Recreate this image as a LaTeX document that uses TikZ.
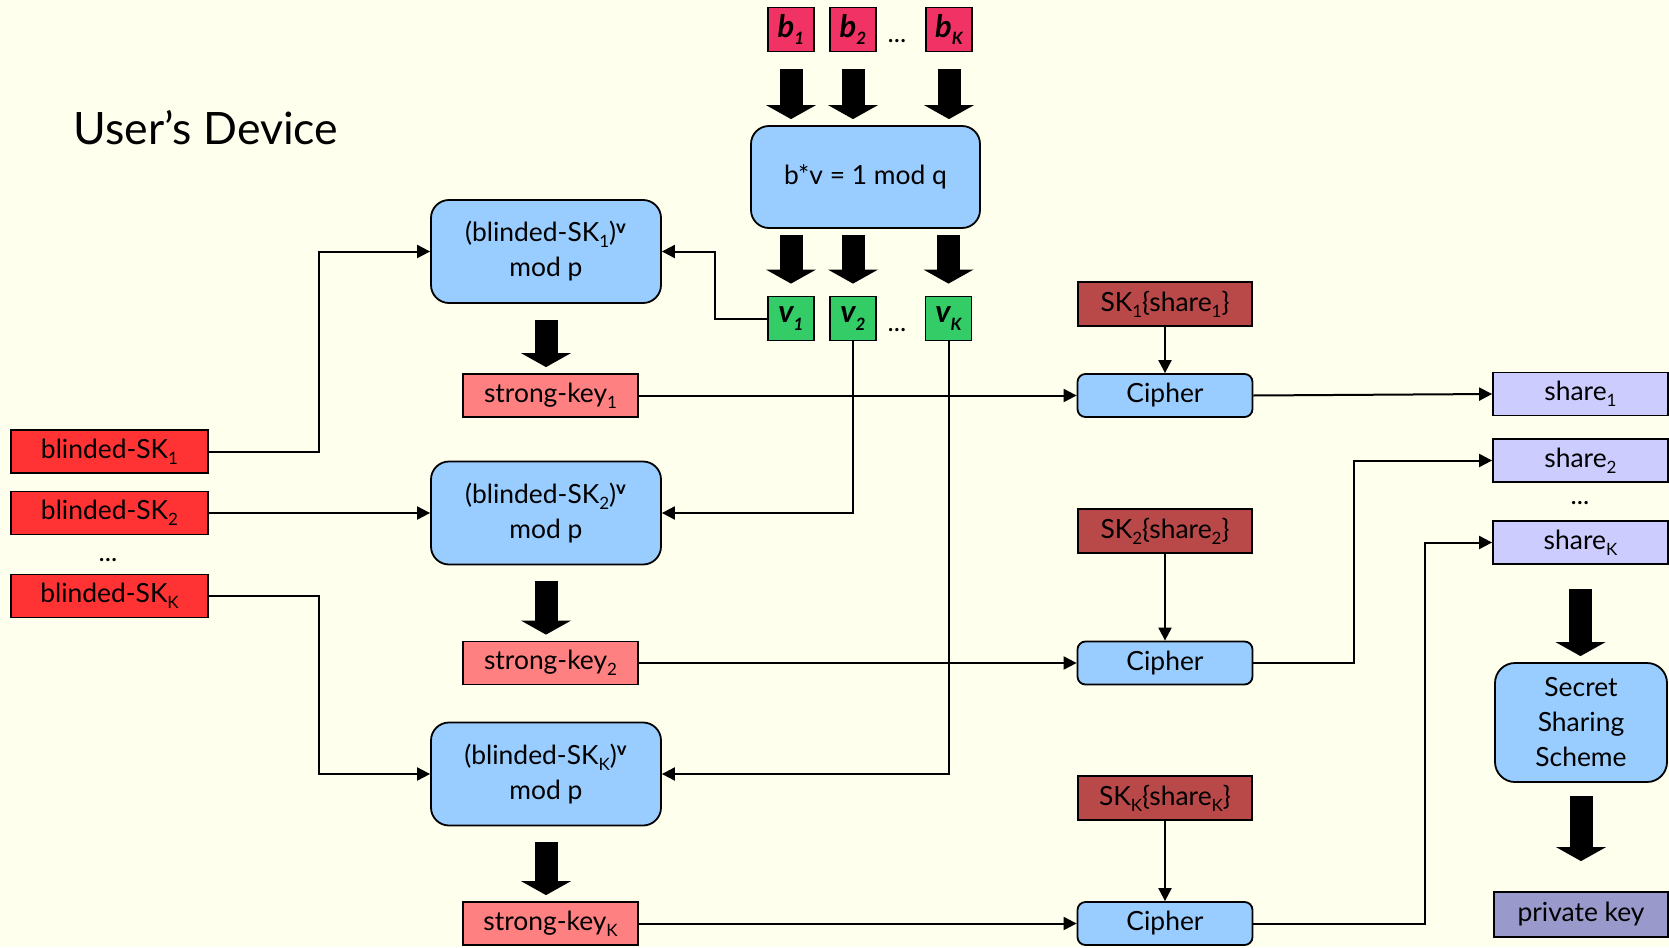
\documentclass[tikz,border=0pt]{standalone}
\usepackage{fontspec}
\setmainfont{Lato}
\usetikzlibrary{arrows.meta, positioning}
\definecolor{bgcream}{RGB}{255,255,238}
\definecolor{bpink}{RGB}{240,50,100}
\definecolor{vgreen}{RGB}{51,204,102}
\definecolor{blindred}{RGB}{255,51,51}
\definecolor{keysalmon}{RGB}{255,128,128}
\definecolor{procblue}{RGB}{153,204,255}
\definecolor{encred}{RGB}{185,72,72}
\definecolor{sharelav}{RGB}{204,204,255}
\definecolor{privpurple}{RGB}{153,153,204}
\newcommand\mainsize{\fontsize{13.2}{17.5}\selectfont}
\newcommand\low[1]{\raisebox{-0.45ex}{\fontsize{8.5}{9}\selectfont #1}}
\tikzset{
  flat/.style={rectangle,draw,line width=0.9pt,inner sep=0pt,align=center,font=\mainsize},
  chip/.style={flat,minimum width=23pt,minimum height=22pt,font=\fontsize{15.5}{17}\selectfont\bfseries\itshape},
  keybox/.style={flat,minimum width=87.5pt,minimum height=21.5pt},
  proc/.style={flat,rounded corners=9pt,fill=procblue,minimum width=115pt,minimum height=51.5pt},
  cipherbox/.style={keybox,rounded corners=4pt,fill=procblue},
  ellip/.style={font=\mainsize,inner sep=0pt},
  line/.style={-{Triangle[length=6.5pt,width=6.5pt]},line width=1pt},
  fat/.style={-{Triangle[length=7pt,width=25pt,line width=0pt]},line width=11.5pt}
}

\begin{document}
\begin{tikzpicture}[x=0.5pt,y=-0.5pt]
\useasboundingbox (0,0) rectangle (1669,947);
\fill[bgcream] (0,0) rectangle (1669,947);

\node[anchor=base west,inner sep=0pt,font=\fontsize{22.3}{26}\selectfont] (title) at (73,144) {User's Device};

% blinding factors and their inverses
\node[chip,fill=bpink] (b1) at (791,29.5) {b\low{1}};
\node[chip,fill=bpink] (b2) at (853,29.5) {b\low{2}};
\node[chip,fill=bpink] (bK) at (949,29.5) {b\low{K}};
\node[ellip] (bdots) at (897,41) {...};
\node[proc,minimum width=114.5pt,minimum height=51pt] (inv) at (865.5,177) {b*v = 1 mod q};
\node[chip,fill=vgreen] (v1) at (791,318.5) {v\low{1}};
\node[chip,fill=vgreen] (v2) at (853,318.5) {v\low{2}};
\node[chip,fill=vgreen] (vK) at (948.5,318.5) {v\low{K}};
\node[ellip] (vdots) at (897,330) {...};

% blinded keys
\node[keybox,fill=blindred,minimum width=98.5pt] (bsk1) at (109.5,451.5) {blinded-SK\low{1}};
\node[keybox,fill=blindred,minimum width=98.5pt] (bsk2) at (109.5,513) {blinded-SK\low{2}};
\node[ellip] (bskdots) at (108,560) {...};
\node[keybox,fill=blindred,minimum width=98.5pt] (bskK) at (109.5,596) {blinded-SK\low{K}};

% exponentiation
\node[proc] (exp1) at (546,251.5) {(blinded-SK\low{1})\textsuperscript{\textbf{v}}\\mod p};
\node[proc] (exp2) at (546,513) {(blinded-SK\low{2})\textsuperscript{\textbf{v}}\\mod p};
\node[proc] (expK) at (546,774) {(blinded-SK\low{K})\textsuperscript{\textbf{v}}\\mod p};
\node[keybox,fill=keysalmon] (key1) at (550.5,395.5) {strong-key\low{1}};
\node[keybox,fill=keysalmon] (key2) at (550.5,663) {strong-key\low{2}};
\node[keybox,fill=keysalmon] (keyK) at (550.5,923.5) {strong-key\low{K}};

% decryption
\node[keybox,fill=encred,minimum width=87pt,minimum height=22pt] (enc1) at (1165,304) {SK\low{1}\{share\low{1}\}};
\node[keybox,fill=encred,minimum width=87pt,minimum height=22pt] (enc2) at (1165,531) {SK\low{2}\{share\low{2}\}};
\node[keybox,fill=encred,minimum width=87pt,minimum height=22pt] (encK) at (1165,798) {SK\low{K}\{share\low{K}\}};
\node[cipherbox] (cipher1) at (1165,395.5) {Cipher};
\node[cipherbox] (cipher2) at (1165,663) {Cipher};
\node[cipherbox] (cipherK) at (1165,923.5) {Cipher};

% shares and recovery
\node[keybox,fill=sharelav] (share1) at (1580.5,394) {share\low{1}};
\node[keybox,fill=sharelav] (share2) at (1580.5,460.5) {share\low{2}};
\node[ellip] (sharedots) at (1580,503) {...};
\node[keybox,fill=sharelav] (shareK) at (1580.5,542.5) {share\low{K}};
\node[proc,rounded corners=10pt,minimum width=86pt,minimum height=59.5pt] (sss) at (1581,722.5) {Secret\\Sharing\\Scheme};
\node[keybox,fill=privpurple,minimum width=87pt,minimum height=22.5pt] (priv) at (1581,914.5) {private key};

\coordinate (leftbend) at (319,0);
\coordinate (vbend) at (715,0);
\coordinate (bendtwo) at (1354,0);
\coordinate (bendK) at (1425,0);

\draw[line] (bsk1.east) -- (bsk1.east -| leftbend) |- (exp1.west);
\draw[line] (bsk2.east) -- (exp2.west);
\draw[line] (bskK.east) -- (bskK.east -| leftbend) |- (expK.west);
\draw[line] (v1.west) -- (v1.west -| vbend) |- (exp1.east);
\draw[line] (v2.south) |- (exp2.east);
\draw[line] (vK.south) |- (expK.east);
\foreach \n in {1,2,K} {
  \draw[line] (key\n.east) -- (cipher\n.west);
  \draw[line] (enc\n.south) -- (cipher\n.north);
}
\draw[line] (cipher1.east) -- (share1.west);
\draw[line] (cipher2.east) -- (cipher2.east -| bendtwo) |- (share2.west);
\draw[line] (cipherK.east) -- (cipherK.east -| bendK) |- (shareK.west);

% block arrows
\foreach \n in {1,2,K} {
  \draw[fat,shorten <=8.5pt,shorten >=3pt] (b\n.south) -- (b\n.south |- inv.north);
  \draw[fat,shorten <=3pt,shorten >=6pt] (v\n.north |- inv.south) -- (v\n.north);
  \draw[fat,shorten <=8pt,shorten >=3pt] (exp\n.south) -- (exp\n.south |- key\n.north);
}
\draw[fat,shorten <=12pt,shorten >=3pt] (shareK.south) -- (shareK.south |- sss.north);
\draw[fat,shorten <=6.5pt,shorten >=15pt] (sss.south) -- (sss.south |- priv.north);
\end{tikzpicture}
\end{document}
